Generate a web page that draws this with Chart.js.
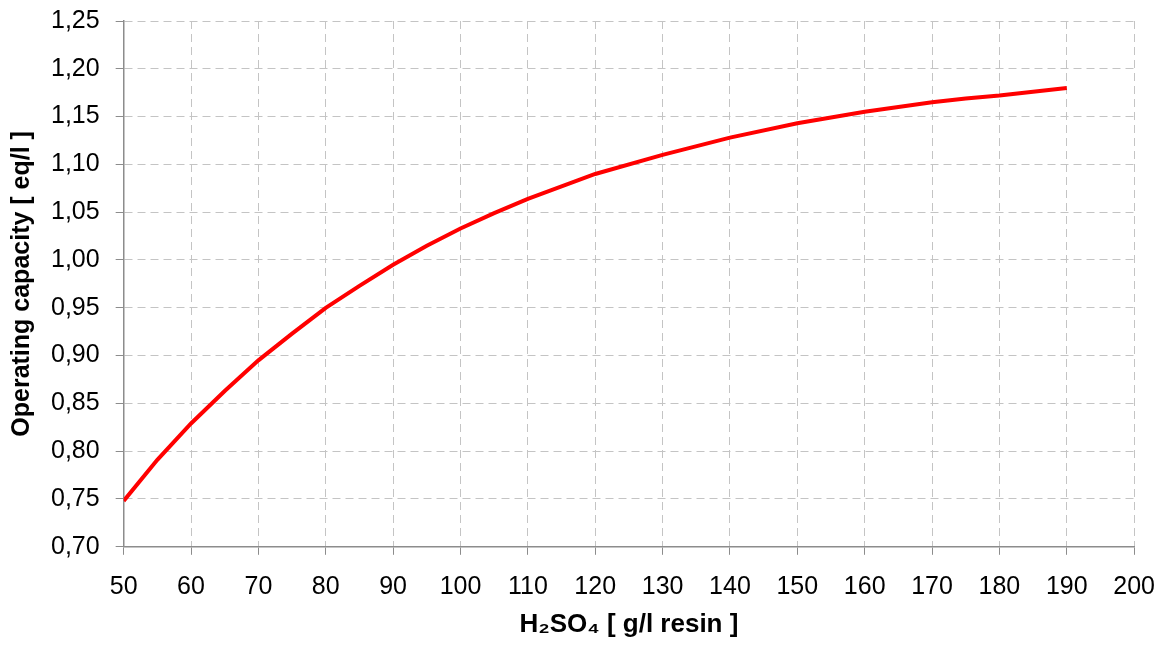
<!DOCTYPE html>
<html>
<head>
<meta charset="utf-8">
<script src="https://cdn.jsdelivr.net/npm/chart.js@4/dist/chart.umd.min.js"></script>
<style>
  html, body { margin: 0; padding: 0; background: #fff; overflow: hidden; }
  #wrap { position: relative; width: 1167px; height: 645px; overflow: hidden; }
  #chart { position: absolute; left: 0; top: -5px; }
</style>
</head>
<body>
<div id="wrap"><canvas id="chart" width="1172" height="650"></canvas></div>
<script>
// acid dosage (g/l resin) and operating capacity (eq/l)
const dosage = [50, 55, 60, 65, 70, 75, 80, 85, 90, 95, 100, 105, 110, 120, 130, 140, 150, 160, 170, 175, 180, 190];
const capacity = [0.748, 0.791, 0.829, 0.863, 0.895, 0.923, 0.950, 0.973, 0.995, 1.015, 1.033, 1.049, 1.064, 1.090, 1.110, 1.128, 1.143, 1.155, 1.165, 1.169, 1.172, 1.180];

const xMin = 50, xMax = 200, xStep = 10;
const yMin = 0.70, yMax = 1.25, yStep = 0.05;

const gridColor = '#c4c4c4';
const axisColor = '#8c8c8c';
const fontFamily = 'Liberation Sans, Arial, sans-serif';

const ctx = document.getElementById('chart').getContext('2d');
const chart = new Chart(ctx, {
    type: 'line',
    data: {
        datasets: [{
            data: dosage.map((d, i) => ({ x: d, y: capacity[i] })),
            borderColor: '#ff0000',
            borderWidth: 4,
            pointRadius: 0,
            tension: 0,
            fill: false,
        }],
    },
    options: {
        responsive: false,
        animation: false,
        layout: { padding: { left: 0, right: 29, top: 0, bottom: 5 } },
        plugins: {
            legend: { display: false },
            tooltip: { enabled: false },
        },
        scales: {
            x: {
                type: 'linear',
                min: xMin,
                max: xMax,
                border: { color: axisColor, width: 1.5, dash: [8, 5] },
                grid: {
                    color: gridColor,
                    tickLength: 8,
                    tickColor: axisColor,
                    tickBorderDash: [],
                },
                ticks: {
                    stepSize: xStep,
                    color: '#000',
                    padding: 17,
                    maxRotation: 0,
                    font: { family: fontFamily, size: 25 },
                },
                title: {
                    display: true,
                    text: 'H₂SO₄ [ g/l resin ]',
                    color: '#000',
                    padding: { top: -10, bottom: 0 },
                    font: { family: fontFamily, size: 26, weight: 'bold' },
                },
            },
            y: {
                min: yMin,
                max: yMax,
                border: { color: axisColor, width: 1.5, dash: [8, 5] },
                grid: {
                    color: gridColor,
                    tickLength: 8,
                    tickColor: axisColor,
                    tickBorderDash: [],
                },
                ticks: {
                    stepSize: yStep,
                    color: '#000',
                    padding: 16,
                    font: { family: fontFamily, size: 25, lineHeight: 0.8 },
                    callback: v => v.toFixed(2).replace('.', ','),
                },
                title: {
                    display: true,
                    text: 'Operating capacity [ eq/l ]',
                    color: '#000',
                    padding: { top: 7, bottom: -2 },
                    font: { family: fontFamily, size: 25, weight: 'bold' },
                },
            },
        },
    },
});
</script>
</body>
</html>
